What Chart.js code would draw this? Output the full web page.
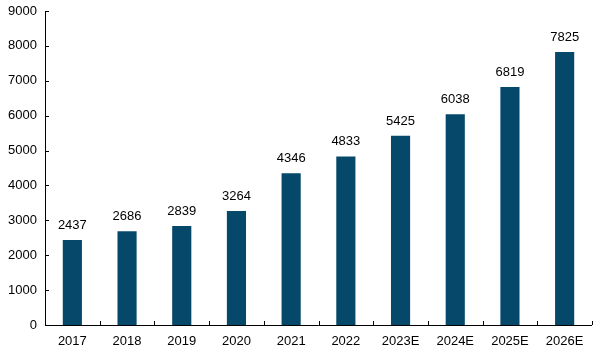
<!DOCTYPE html>
<html><head><meta charset="utf-8">
<script src="https://cdn.jsdelivr.net/npm/chart.js@4/dist/chart.umd.min.js"></script>
<style>html,body{margin:0;padding:0;background:#fff}#wrap{width:600px;height:351px}</style>
</head><body><div id="wrap"><canvas id="c" width="600" height="351"></canvas></div>
<script>
const categories = ["2017","2018","2019","2020","2021","2022","2023E","2024E","2025E","2026E"];
const values = [2437,2686,2839,3264,4346,4833,5425,6038,6819,7825];
const yTicks = [0,1000,2000,3000,4000,5000,6000,7000,8000,9000];

const FONT = "Arial, 'Liberation Sans', sans-serif";

const plugin = {
  id: 'custom',
  afterDatasetsDraw(chart) {
    const ctx = chart.ctx;
    const x = chart.scales.x, y = chart.scales.y;
    const area = chart.chartArea;
    ctx.save();
    ctx.strokeStyle = '#000';
    ctx.lineWidth = 1;
    ctx.beginPath();
    ctx.moveTo(area.left + 0.5, area.top);
    ctx.lineTo(area.left + 0.5, area.bottom + 0.5);
    ctx.lineTo(area.right, area.bottom + 0.5);
    ctx.stroke();
    yTicks.forEach(v => {
      const py = Math.round(y.getPixelForValue(v)) + 0.5;
      ctx.beginPath(); ctx.moveTo(area.left, py); ctx.lineTo(area.left + 4, py); ctx.stroke();
    });
    const n = categories.length;
    for (let i = 1; i <= n; i++) {
      const px = Math.round(area.left + (area.right - area.left) * i / n) + 0.5;
      ctx.beginPath(); ctx.moveTo(px, area.bottom); ctx.lineTo(px, area.bottom - 4); ctx.stroke();
    }
    ctx.fillStyle = '#000';
    ctx.font = '13px ' + FONT;
    ctx.textAlign = 'center';
    ctx.textBaseline = 'bottom';
    const meta = chart.getDatasetMeta(0);
    meta.data.forEach((bar, i) => {
      ctx.fillText(String(values[i]), bar.x, bar.y - 8);
    });
    ctx.restore();
  }
};

new Chart(document.getElementById('c'), {
  type: 'bar',
  data: {
    labels: categories,
    datasets: [{ data: values, backgroundColor: '#06486a', barPercentage: 0.35, categoryPercentage: 1 }]
  },
  options: {
    responsive: false,
    animation: false,
    layout: { padding: { top: 11, right: 8, left: 0, bottom: 0 } },
    plugins: { legend: { display: false }, tooltip: { enabled: false } },
    scales: {
      x: {
        grid: { display: false, drawTicks: false },
        border: { display: false },
        afterFit: s => { s.height = 26; s.paddingLeft = 0; s.paddingRight = 0; },
        ticks: { color: '#000', font: { family: FONT, size: 13 }, padding: 9 }
      },
      y: {
        min: 0, max: 9000,
        afterBuildTicks: s => { s.ticks = yTicks.map(v => ({ value: v })); },
        grid: { display: false, drawTicks: false },
        border: { display: false },
        afterFit: s => { s.width = 45; s.paddingTop = 0; s.paddingBottom = 0; },
        ticks: { color: '#000', font: { family: FONT, size: 13 }, padding: 8, callback: v => String(v) }
      }
    }
  },
  plugins: [plugin]
});
</script></body></html>
